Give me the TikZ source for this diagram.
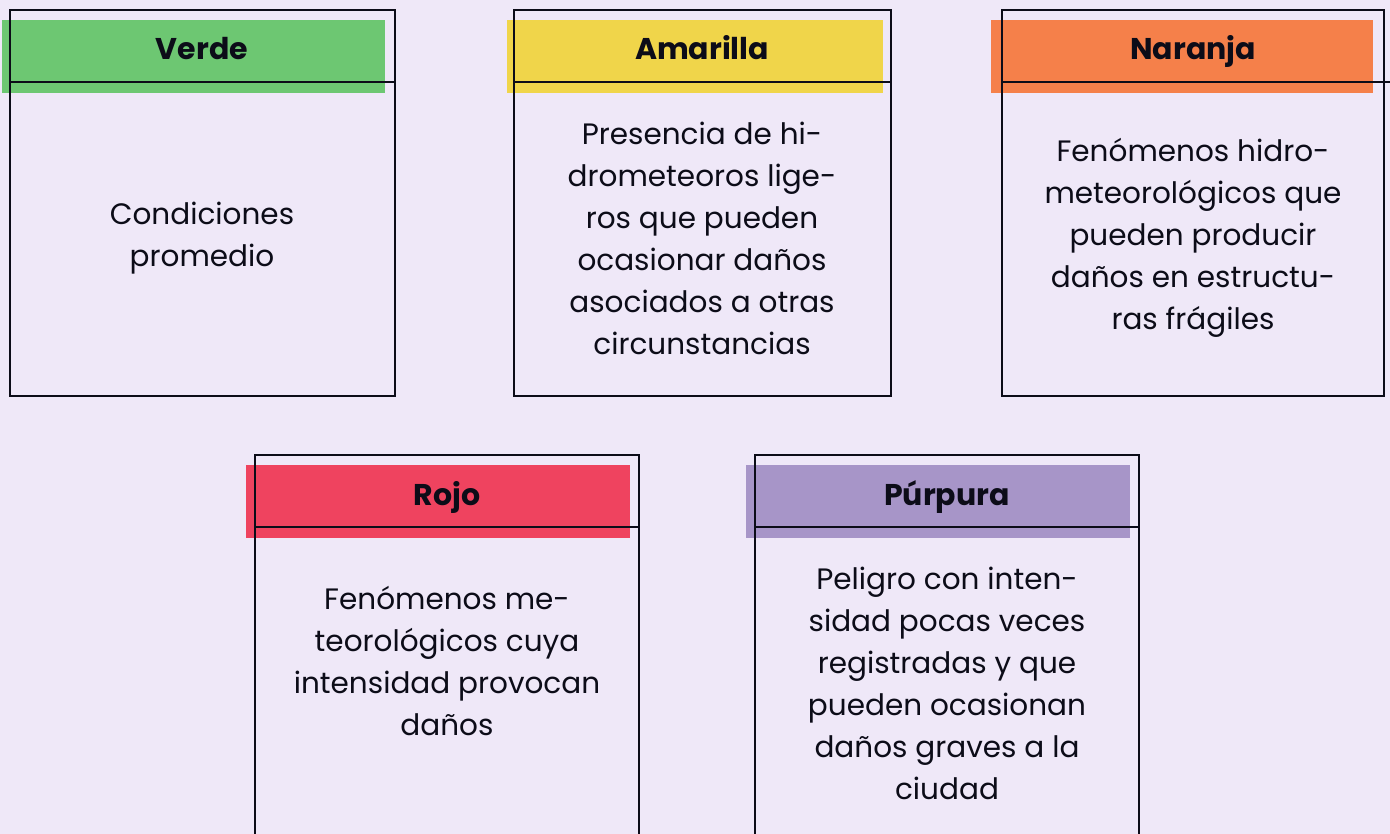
\documentclass[tikz,border=0pt]{standalone}
\usepackage{fontspec}
\setmainfont{Poppins}
\definecolor{fondo}{HTML}{EFE8F8}
\definecolor{verde}{HTML}{6DC772}
\definecolor{amarillo}{HTML}{F0D54A}
\definecolor{naranja}{HTML}{F5804A}
\definecolor{rojo}{HTML}{EF435F}
\definecolor{purpura}{HTML}{A795C8}
\definecolor{tinta}{HTML}{0C0C18}

\tikzset{
  banda/.style={fill=#1, draw=none},
  caja/.style={draw=tinta, line width=2.2pt},
  titulo/.style={anchor=base, text=tinta, font=\fontsize{30}{32}\selectfont\bfseries},
  texto/.style={align=center, text=tinta, font=\fontsize{29.5}{42}\selectfont},
}

\begin{document}
\begin{tikzpicture}[x=1pt, y=-1pt]
  \useasboundingbox (0,0) rectangle (1390,834);
  \fill[fondo] (0,0) rectangle (1390,834);
  \clip (0,0) rectangle (1390,834);
  % verde
  \fill[banda=verde] (2,20) rectangle (385,93);
  \draw[caja] (10,10) rectangle (395,396);
  \draw[caja] (10,82) -- (396,82);
  \node[titulo] (tverde) at (202,60) {Verde};
  \node[texto] (cverde) at (202,238) {Condiciones\\promedio};
  % amarilla
  \fill[banda=amarillo] (507,20) rectangle (883,93);
  \draw[caja] (514,10) rectangle (891,396);
  \draw[caja] (514,82) -- (892,82);
  \node[titulo] (tamarilla) at (702,60) {Amarilla};
  \node[texto] (camarilla) at (702,238) {Presencia de hi-\\drometeoros lige-\\ros que pueden\\ocasionar daños\\asociados a otras\\circunstancias};
  % naranja
  \fill[banda=naranja] (991,20) rectangle (1373,93);
  \draw[caja] (1002,10) rectangle (1384,396);
  \draw[caja] (1002,82) -- (1390,82);
  \node[titulo] (tnaranja) at (1193,60) {Naranja};
  \node[texto] (cnaranja) at (1193,238) {Fenómenos hidro-\\meteorológicos que\\pueden producir\\daños en estructu-\\ras frágiles};
  % rojo
  \fill[banda=rojo] (246,465) rectangle (630,538);
  \draw[caja] (255,455) rectangle (639,870);
  \draw[caja] (255,527) -- (640,527);
  \node[titulo] (trojo) at (447,505) {Rojo};
  \node[texto] (crojo) at (447,661) {Fenómenos me-\\teorológicos cuya\\intensidad provocan\\daños};
  % purpura
  \fill[banda=purpura] (746,465) rectangle (1130,538);
  \draw[caja] (755,455) rectangle (1139,870);
  \draw[caja] (755,527) -- (1140,527);
  \node[titulo] (tpurpura) at (947,505) {Púrpura};
  \node[texto] (cpurpura) at (947,683) {Peligro con inten-\\sidad pocas veces\\registradas y que\\pueden ocasionan\\daños graves a la\\ciudad};
\end{tikzpicture}
\end{document}
